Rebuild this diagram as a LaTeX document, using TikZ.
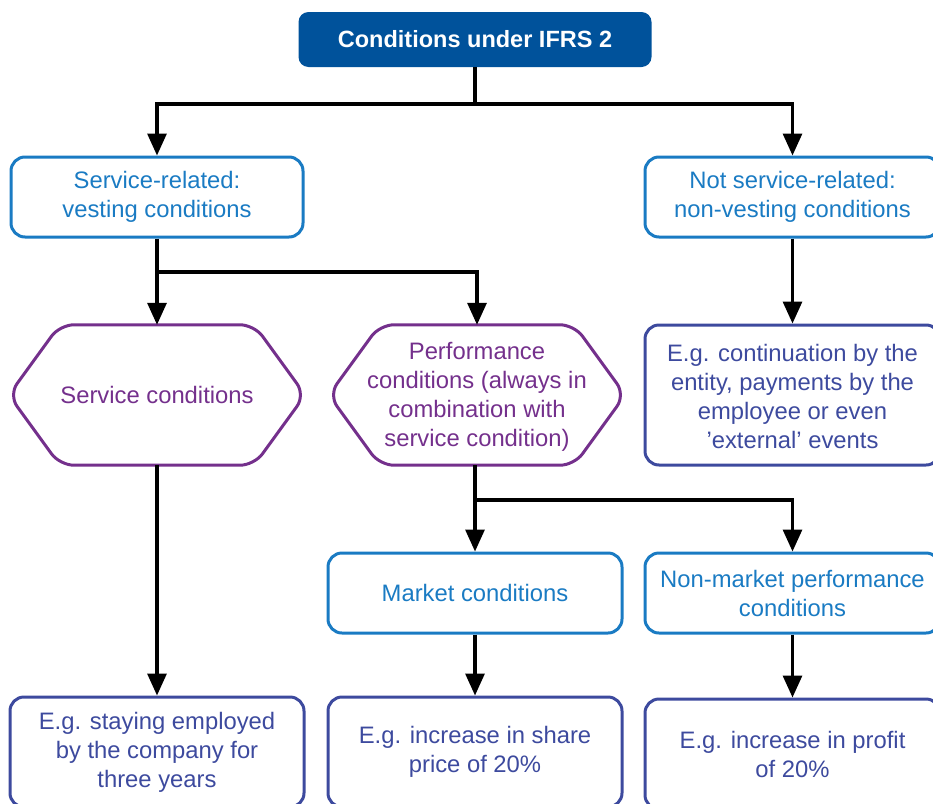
\documentclass[tikz,border=0pt]{standalone}
\usepackage{fontspec}
\setmainfont{Liberation Sans}
\usetikzlibrary{arrows.meta,calc}
\definecolor{titleblue}{HTML}{00529B}
\definecolor{midblue}{HTML}{1A7BC3}
\definecolor{plum}{HTML}{74308C}
\definecolor{indigoc}{HTML}{3D4A9E}
\begin{document}
\begin{tikzpicture}[x=1pt,y=-1pt,
  txt/.style={font=\fontsize{23.8}{29}\selectfont, align=center, inner sep=0pt},
  titlebox/.style={txt, font=\fontsize{23.5}{28.5}\selectfont\bfseries, fill=titleblue, text=white,
     rounded corners=10pt, minimum width=353pt, minimum height=55pt},
  bluebox/.style={txt, draw=midblue, text=midblue, line width=3pt, rounded corners=14pt,
     minimum width=292pt, minimum height=80pt},
  egbox/.style={txt, draw=indigoc, text=indigoc, line width=3pt, rounded corners=14pt,
     minimum width=294pt},
  hexbox/.style={txt, text=plum, minimum width=296pt, minimum height=140pt},
  hexline/.style={draw=plum, line width=3pt, rounded corners=14pt},
  arr/.style={line width=3.2pt, -{Triangle[length=22pt,width=19pt]}},
  link/.style={line width=3.2pt}
]
\useasboundingbox (0,0) rectangle (933,803);

% nodes
\node[titlebox] (title) at (475,39.5) {Conditions under IFRS 2};
\node[bluebox] (svc) at (157,197) {Service-related:\\vesting conditions};
\node[bluebox, minimum width=295pt] (nsvc) at (792.5,197) {Not service-related:\\non-vesting conditions};

\node[hexbox] (sc) at (157,395) {Service conditions};
\node[hexbox] (pc) at (477,395) {\strut Performance\\conditions (always in\\combination with\\service condition)};
\node[egbox, minimum width=295pt, minimum height=140pt] (eg1) at (792.5,395)
  {\strut E.g. continuation by the\\entity, payments by the\\employee or even\\{’}external{’} events};

\node[bluebox, minimum width=294pt] (mkt) at (475,593) {Market conditions};
\node[bluebox, minimum width=295pt] (nmkt) at (792.5,593) {Non-market performance\\conditions};

\node[egbox, minimum height=110pt] (b1) at (157,752) {E.g. staying employed\\by the company for\\three years};
\node[egbox, minimum height=110pt] (b2) at (475,752) {E.g. increase in share\\price of 20\%};
\node[egbox, minimum width=295pt, minimum height=110pt] (b3) at (792.5,754) {E.g. increase in profit\\of 20\%};

% hexagons
\foreach \h in {sc,pc}{
  \draw[hexline] (\h.north) -- ($(\h.north east)+(-51,0)$) -- (\h.east)
     -- ($(\h.south east)+(-51,0)$) -- ($(\h.south west)+(51,0)$) -- (\h.west)
     -- ($(\h.north west)+(51,0)$) -- (\h.north);
}

% connectors
\coordinate (j1) at (475,104);
\coordinate (j2) at (157,272);
\coordinate (j3) at (475,500);
\draw[link] (title.south) -- (j1);
\draw[arr] (j1) -| (svc.north);
\draw[arr] (j1) -| (nsvc.north);
\draw[arr] (svc.south) -- (sc.north);
\draw[arr] (j2) -| (pc.north);
\draw[arr] (nsvc.south) -- (eg1.north);
\draw[arr] (sc.south) -- (b1.north);
\draw[link] (pc.south -| j3) -- (j3);
\draw[arr] (j3) -- (mkt.north);
\draw[arr] (j3) -| (nmkt.north);
\draw[arr] (mkt.south) -- (b2.north);
\draw[arr] (nmkt.south) -- (b3.north);
\end{tikzpicture}
\end{document}
